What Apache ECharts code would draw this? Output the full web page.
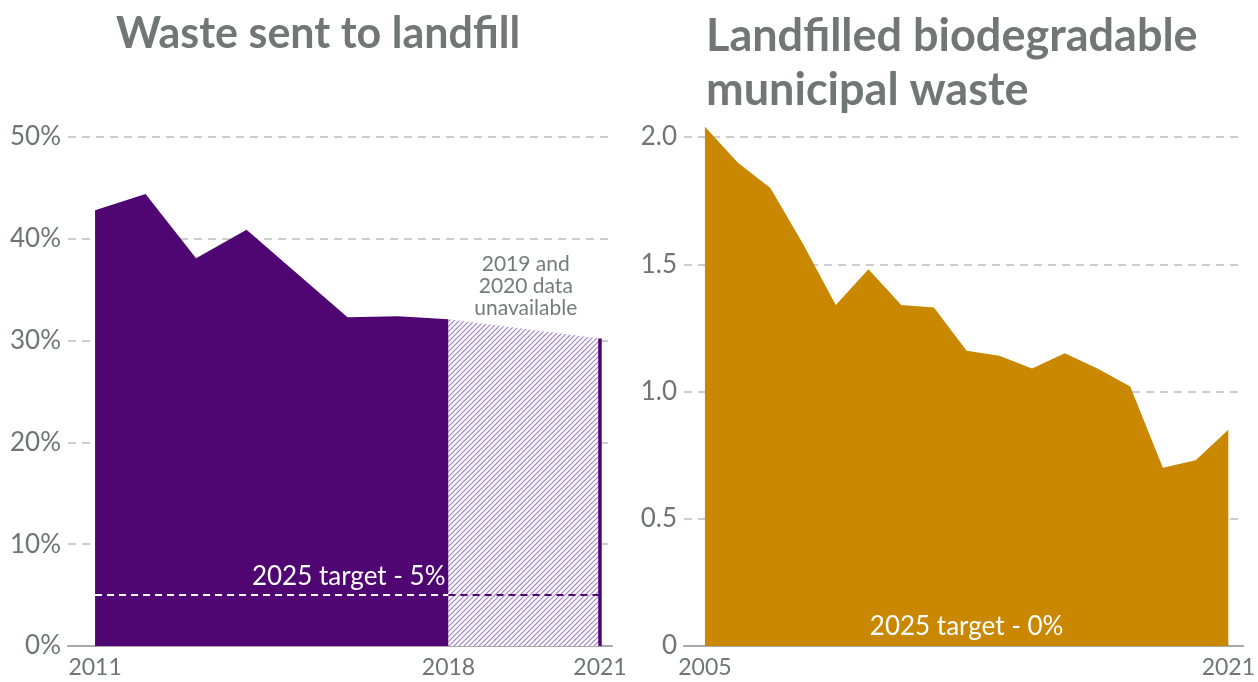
<!DOCTYPE html>
<html>
<head>
<meta charset="utf-8">
<script src="https://cdn.jsdelivr.net/npm/echarts@6/dist/echarts.min.js"></script>
<style>
html,body{margin:0;padding:0;background:#fff;}
#c{width:1258px;height:682px;}
</style>
</head>
<body>
<div id="c"></div>
<script>
// ---- data ----
const landfillYears = [2011, 2012, 2013, 2014, 2015, 2016, 2017, 2018];
const landfillValues = [42.8, 44.4, 38.1, 40.9, 36.6, 32.3, 32.4, 32.1];
const gapYears = [2018, 2021];
const gapValues = [32.1, 30.2];
const latestYear = 2021;
const latestValue = 30.2;
const targetLandfill = 5;
const landfillTickYears = [2011, 2018, 2021];

const bmwYears = [2005, 2006, 2007, 2008, 2009, 2010, 2011, 2012, 2013, 2014, 2015, 2016, 2017, 2018, 2019, 2020, 2021];
const bmwValues = [2.04, 1.90, 1.80, 1.58, 1.34, 1.48, 1.34, 1.33, 1.16, 1.14, 1.09, 1.15, 1.09, 1.02, 0.70, 0.73, 0.85];
const bmwTickYears = [2005, 2021];
const targetBmw = 0;

const PURPLE = '#4f0673';
const GOLD = '#c98800';
const TEXT = '#6f7474';
const FONT = 'Lato';

function hatch() {
  const s = 5;
  const c = document.createElement('canvas');
  c.width = s; c.height = s;
  const g = c.getContext('2d');
  g.fillStyle = '#ffffff';
  g.fillRect(0, 0, s, s);
  g.strokeStyle = '#9f80cb';
  g.lineWidth = 1.2;
  g.beginPath();
  g.moveTo(-1, s + 1); g.lineTo(s + 1, -1);
  g.moveTo(-1, 1); g.lineTo(1, -1);
  g.moveTo(s - 1, s + 1); g.lineTo(s + 1, s - 1);
  g.stroke();
  return c;
}

const chart = echarts.init(document.getElementById('c'), null, {renderer: 'canvas'});

const splitLine = {show: true, lineStyle: {color: '#bdbdbd', width: 1.5, type: [8, 6]}};
const axisLabelX = {color: TEXT, fontFamily: FONT, fontSize: 23, margin: 10};
const axisLabelY = {color: TEXT, fontFamily: FONT, fontSize: 26, margin: 7};
const axisLineX = {show: true, lineStyle: {color: '#a8a8a8', width: 2}};

chart.setOption({
  animation: false,
  title: [
    {text: 'Waste sent to landfill', left: 111, top: 8,
     textStyle: {fontFamily: FONT, fontWeight: 'bold', fontSize: 43, color: '#717676'}},
    {text: 'Landfilled biodegradable\nmunicipal waste', left: 701, top: 4,
     textStyle: {fontFamily: FONT, fontWeight: 'bold', fontSize: 45, lineHeight: 54, color: '#717676'}}
  ],
  grid: [
    {left: 68, right: 646, top: 137, bottom: 36},
    {left: 684, right: 13, top: 137, bottom: 36}
  ],
  xAxis: [
    {gridIndex: 0, type: 'value', min: 2010.464, max: 2021.238,
     axisLine: axisLineX, axisTick: {show: false}, splitLine: {show: false},
     axisLabel: Object.assign({customValues: landfillTickYears, formatter: v => String(v)}, axisLabelX)},
    {gridIndex: 1, type: 'value', min: 2004.36, max: 2021.457,
     axisLine: axisLineX, axisTick: {show: false}, splitLine: {show: false},
     axisLabel: Object.assign({customValues: bmwTickYears, formatter: v => String(v)}, axisLabelX)}
  ],
  yAxis: [
    {gridIndex: 0, type: 'value', min: 0, max: 50, interval: 10,
     axisLine: {show: false}, axisTick: {show: false}, splitLine: splitLine,
     axisLabel: Object.assign({formatter: '{value}%'}, axisLabelY)},
    {gridIndex: 1, type: 'value', min: 0, max: 2, interval: 0.5,
     axisLine: {show: false}, axisTick: {show: false}, splitLine: splitLine,
     axisLabel: Object.assign({formatter: v => v === 0 ? '0' : v.toFixed(1)}, axisLabelY)}
  ],
  series: [
    {type: 'line', xAxisIndex: 0, yAxisIndex: 0, symbol: 'none', z: 2, clip: false,
     data: landfillYears.map((y, i) => [y, landfillValues[i]]),
     lineStyle: {width: 0}, areaStyle: {color: PURPLE, opacity: 1}},
    {type: 'line', xAxisIndex: 0, yAxisIndex: 0, symbol: 'none', z: 2, clip: false,
     data: gapYears.map((y, i) => [y, gapValues[i]]),
     lineStyle: {width: 0}, areaStyle: {color: {image: hatch(), repeat: 'repeat'}, opacity: 1},
     markPoint: {symbol: 'circle', symbolSize: 0, silent: true,
       data: [{coord: [2019.53, 35.3], label: {show: true, formatter: '2019 and\n2020 data\nunavailable',
         position: 'inside', color: '#777b7b', fontFamily: FONT, fontSize: 21, lineHeight: 22, align: 'center'}}]}},
    {type: 'line', xAxisIndex: 0, yAxisIndex: 0, symbol: 'none', z: 3, clip: false,
     data: [[latestYear, 0], [latestYear, latestValue]],
     lineStyle: {width: 3.5, color: PURPLE}},
    {type: 'line', xAxisIndex: 0, yAxisIndex: 0, symbol: 'none', z: 4,
     data: [[landfillYears[0], targetLandfill], [landfillYears[landfillYears.length - 1], targetLandfill]],
     lineStyle: {width: 2, color: '#ffffff', type: [7, 5]},
     markPoint: {symbol: 'circle', symbolSize: 0, silent: true,
       data: [{coord: [landfillYears[landfillYears.length - 1], targetLandfill],
         label: {show: true, formatter: '2025 target - 5%', position: 'left', distance: 3, offset: [0, -18],
           color: '#ffffff', fontFamily: FONT, fontSize: 26}}]}},
    {type: 'line', xAxisIndex: 0, yAxisIndex: 0, symbol: 'none', z: 4,
     data: [[landfillYears[landfillYears.length - 1], targetLandfill], [latestYear, targetLandfill]],
     lineStyle: {width: 2, color: PURPLE, type: [7, 5]}},
    {type: 'line', xAxisIndex: 1, yAxisIndex: 1, symbol: 'none', z: 2, clip: false,
     data: bmwYears.map((y, i) => [y, bmwValues[i]]),
     lineStyle: {width: 0}, areaStyle: {color: GOLD, opacity: 1},
     markPoint: {symbol: 'circle', symbolSize: 0, silent: true,
       data: [{coord: [2013, targetBmw], label: {show: true, formatter: '2025 target - 0%', position: 'top', distance: 6,
         color: '#ffffff', fontFamily: FONT, fontSize: 26}}]}}
  ]
});
</script>
</body>
</html>
